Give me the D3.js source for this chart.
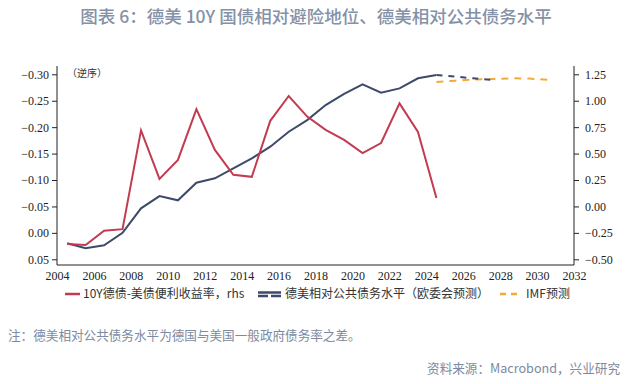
<!DOCTYPE html>
<html>
<head>
<meta charset="utf-8">
<script src="https://cdn.jsdelivr.net/npm/d3@7"></script>
<style>
body{margin:0;background:#fff;}
svg{display:block;}
</style>
</head>
<body>
<div class="chart"></div>
<script>
// annual data, German minus US
const years = [2004,2005,2006,2007,2008,2009,2010,2011,2012,2013,2014,2015,2016,2017,2018,2019,2020,2021,2022,2023,2024];
const convYield = [0.021,0.023,-0.004,-0.007,-0.194,-0.102,-0.138,-0.234,-0.157,-0.110,-0.106,-0.212,-0.259,-0.220,-0.195,-0.176,-0.151,-0.170,-0.245,-0.191,-0.066];
const debtGap = [-0.349,-0.396,-0.368,-0.249,-0.018,0.098,0.058,0.224,0.266,0.360,0.455,0.565,0.707,0.817,0.959,1.065,1.155,1.076,1.117,1.212,1.243];
const ecYears = [2024,2025,2026,2027];
const ecForecast = [1.243,1.229,1.212,1.196];
const imfYears = [2024,2025,2026,2027,2028,2029,2030];
const imfForecast = [1.177,1.190,1.200,1.205,1.212,1.210,1.198];
const leftTicks = [-0.30,-0.25,-0.20,-0.15,-0.10,-0.05,0.00,0.05];
const rightTicks = [1.25,1.00,0.75,0.50,0.25,0.00,-0.25,-0.50];
const xTicks = d3.range(2004, 2033, 2);

const width = 632, height = 384;
const red = '#c33b50', navy = '#3e4a6a', orange = '#f4a93a';
const serif = '"Liberation Serif","Times New Roman",serif';
const cjk = '"Noto Sans CJK SC","Noto Sans",sans-serif';

const svg = d3.select('.chart').append('svg')
	.attr('width', width)
	.attr('height', height)

svg.append('text')
	.attr('x', 316).attr('y', 23)
	.attr('text-anchor', 'middle')
	.attr('font-family', cjk)
	.attr('font-size', 17.5)
	.attr('font-weight', 500)
	.attr('fill', '#8491a7')
	.text('图表 6：德美 10Y 国债相对避险地位、德美相对公共债务水平')

const x = d3.scaleLinear().domain([2004, 2032]).range([57, 574]);
const yL = d3.scaleLinear().domain([-0.30, 0.05]).range([74.3, 259.3]);
const yR = d3.scaleLinear().domain([1.25, -0.50]).range([74.3, 259.3]);
const mid = 0.55; // annual points sit mid-year

// frame lines
svg.append('line').attr('x1', 57).attr('x2', 57).attr('y1', 66).attr('y2', 265)
	.attr('stroke', '#222').attr('stroke-width', 1)
svg.append('line').attr('x1', 574).attr('x2', 574).attr('y1', 66).attr('y2', 265)
	.attr('stroke', '#222').attr('stroke-width', 1)
svg.append('line').attr('x1', 57).attr('x2', 574).attr('y1', 265).attr('y2', 265)
	.attr('stroke', '#222').attr('stroke-width', 1)

const leftAxis = svg.append('g')
	.attr('transform', 'translate(57,0)')
	.call(d3.axisLeft(yL).tickValues(leftTicks).tickSize(5).tickPadding(3)
		.tickFormat(d3.format('.2f')))
leftAxis.select('.domain').remove()

const rightAxis = svg.append('g')
	.attr('transform', 'translate(574,0)')
	.call(d3.axisRight(yR).tickValues(rightTicks).tickSize(5).tickPadding(6)
		.tickFormat(d3.format('.2f')))
rightAxis.select('.domain').remove()

const bottomAxis = svg.append('g')
	.attr('transform', 'translate(0,265)')
	.call(d3.axisBottom(x).tickValues(xTicks).tickSize(0).tickPadding(6)
		.tickFormat(d3.format('d')))
bottomAxis.select('.domain').remove()

svg.selectAll('.tick text')
	.attr('font-family', serif)
	.attr('font-size', 12)
	.attr('fill', '#222')
svg.selectAll('.tick line').attr('stroke', '#222')

svg.append('text')
	.attr('x', 67).attr('y', 77)
	.attr('font-family', cjk)
	.attr('font-size', 10)
	.attr('fill', '#333')
	.text('（逆序）')

// series
const lineL = d3.line().x(d => x(d[0] + mid)).y(d => yL(d[1]));
const lineR = d3.line().x(d => x(d[0] + mid)).y(d => yR(d[1]));

svg.append('path')
	.datum(imfYears.map((d, i) => [d, imfForecast[i]]))
	.attr('d', lineR)
	.attr('fill', 'none').attr('stroke', orange).attr('stroke-width', 2)
	.attr('stroke-dasharray', '7,6')

svg.append('path')
	.datum(ecYears.map((d, i) => [d, ecForecast[i]]))
	.attr('d', lineR)
	.attr('fill', 'none').attr('stroke', navy).attr('stroke-width', 2)
	.attr('stroke-dasharray', '6,6')

svg.append('path')
	.datum(years.map((d, i) => [d, debtGap[i]]))
	.attr('d', lineR)
	.attr('fill', 'none').attr('stroke', navy).attr('stroke-width', 2)

svg.append('path')
	.datum(years.map((d, i) => [d, convYield[i]]))
	.attr('d', lineL)
	.attr('fill', 'none').attr('stroke', red).attr('stroke-width', 2)

// legend
const lg = svg.append('g').attr('font-family', cjk).attr('font-size', 12).attr('fill', '#333')
lg.append('line').attr('x1', 65).attr('x2', 80).attr('y1', 294).attr('y2', 294)
	.attr('stroke', red).attr('stroke-width', 2.5)
lg.append('text').attr('x', 83).attr('y', 298).text('10Y德债-美债便利收益率，rhs')
lg.append('line').attr('x1', 258).attr('x2', 281).attr('y1', 292.5).attr('y2', 292.5)
	.attr('stroke', navy).attr('stroke-width', 2.5)
lg.append('line').attr('x1', 258).attr('x2', 281).attr('y1', 296).attr('y2', 296)
	.attr('stroke', navy).attr('stroke-width', 2.5).attr('stroke-dasharray', '10,3')
lg.append('text').attr('x', 285).attr('y', 298).text('德美相对公共债务水平（欧委会预测）')
lg.append('line').attr('x1', 500).attr('x2', 522).attr('y1', 294).attr('y2', 294)
	.attr('stroke', orange).attr('stroke-width', 2.5).attr('stroke-dasharray', '6,5')
lg.append('text').attr('x', 526).attr('y', 298).text('IMF预测')

svg.append('text')
	.attr('x', 8).attr('y', 340)
	.attr('font-family', cjk)
	.attr('font-size', 12.6)
	.attr('fill', '#7d8aa0')
	.text('注：德美相对公共债务水平为德国与美国一般政府债务率之差。')

svg.append('text')
	.attr('x', 620).attr('y', 373)
	.attr('text-anchor', 'end')
	.attr('font-family', cjk)
	.attr('font-size', 12.6)
	.attr('fill', '#7d8aa0')
	.text('资料来源：Macrobond，兴业研究')
</script>
</body>
</html>
